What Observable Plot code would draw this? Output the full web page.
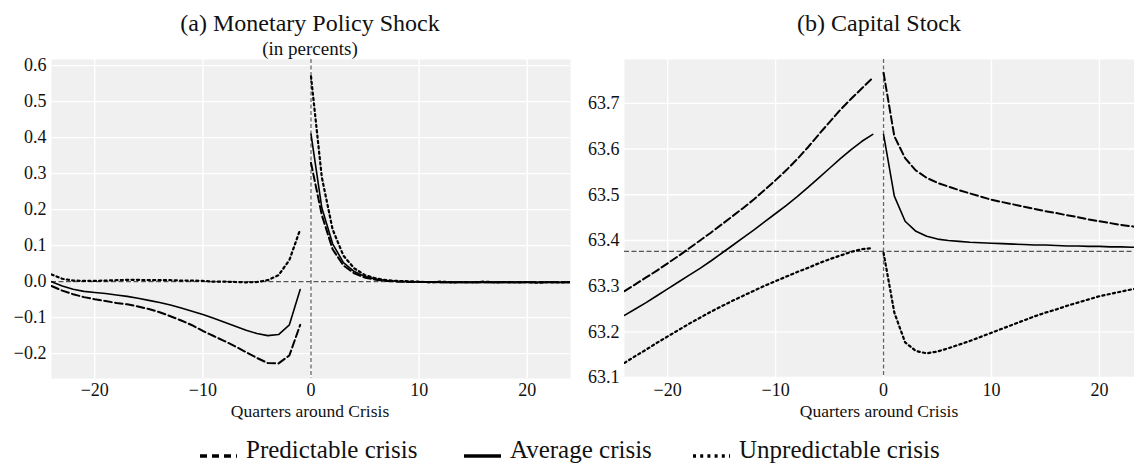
<!DOCTYPE html>
<html><head><meta charset="utf-8">
<script src="https://cdn.jsdelivr.net/npm/d3@7"></script>
<script src="https://cdn.jsdelivr.net/npm/@observablehq/plot@0.6"></script>
<style>
body{margin:0;background:#fff;}
#fig{position:relative;width:1134px;height:463px;font-family:"Liberation Serif",serif;color:#111;}
#fig svg, #fig svg text{font-family:"Liberation Serif",serif !important;}
.t{position:absolute;white-space:nowrap;transform:translate(-50%,-50%);line-height:1;}
.svgw{position:absolute;}
#legend{position:absolute;left:0;top:434px;width:1134px;height:30px;}
.li{position:absolute;top:0;height:30px;display:flex;align-items:center;font-size:25px;white-space:nowrap;line-height:1;}
.li svg{margin-right:9px;}
</style></head>
<body><div id="fig">
<div class="t" style="left:310px;top:23px;font-size:24px">(a) Monetary Policy Shock</div>
<div class="t" style="left:310px;top:48px;font-size:19px">(in percents)</div>
<div class="t" style="left:879px;top:23px;font-size:24px">(b) Capital Stock</div>
<div class="t" style="left:310px;top:412px;font-size:17.5px">Quarters around Crisis</div>
<div class="t" style="left:879px;top:412px;font-size:17.5px">Quarters around Crisis</div>
<div id="pa" class="svgw" style="left:0;top:40px"></div>
<div id="pb" class="svgw" style="left:570px;top:40px"></div>
<div id="legend"></div>
</div>
<script>
// ---- data ----
const quartersPre = [-24,-23,-22,-21,-20,-19,-18,-17,-16,-15,-14,-13,-12,-11,-10,-9,-8,-7,-6,-5,-4,-3,-2,-1];
const quartersPost = [0,1,2,3,4,5,6,7,8,9,10,11,12,13,14,15,16,17,18,19,20,21,22,23,24];
const xTicks = [-20,-10,0,10,20];

// (a) Monetary policy shock, in percents
const shockPredPre = [-0.012,-0.025,-0.035,-0.043,-0.049,-0.054,-0.059,-0.063,-0.069,-0.076,-0.085,-0.096,-0.108,-0.121,-0.137,-0.151,-0.165,-0.18,-0.196,-0.212,-0.226,-0.227,-0.205,-0.12];
const shockPredPost = [0.33,0.185,0.09,0.045,0.023,0.011,0.005,0.002,0.0,-0.001,-0.001,-0.001,-0.002,-0.002,-0.002,-0.002,-0.002,-0.002,-0.002,-0.002,-0.002,-0.002,-0.002,-0.002,-0.002];
const shockAvgPre = [0.0,-0.012,-0.021,-0.027,-0.03,-0.033,-0.037,-0.041,-0.046,-0.052,-0.058,-0.065,-0.073,-0.082,-0.091,-0.102,-0.113,-0.124,-0.135,-0.144,-0.15,-0.147,-0.12,-0.022];
const shockAvgPost = [0.41,0.205,0.105,0.053,0.028,0.014,0.007,0.003,0.001,0.0,-0.001,-0.001,-0.002,-0.002,-0.002,-0.002,-0.002,-0.002,-0.002,-0.002,-0.002,-0.002,-0.002,-0.002,-0.002];
const shockUnpPre = [0.02,0.008,0.003,0.002,0.002,0.003,0.004,0.005,0.005,0.004,0.004,0.004,0.003,0.003,0.002,0.0,0.0,-0.001,-0.002,-0.001,0.004,0.018,0.06,0.145];
const shockUnpPost = [0.57,0.29,0.145,0.072,0.037,0.018,0.009,0.004,0.002,0.001,0.0,-0.002,0.0,-0.002,-0.001,-0.002,0.0,-0.002,-0.001,-0.002,-0.001,-0.003,-0.001,-0.002,-0.001];
const shockTicks = [-0.2,-0.1,0.0,0.1,0.2,0.3,0.4,0.5,0.6];
const shockRef = 0.0;

// (b) Capital stock
const capPredPre = [63.289,63.304,63.319,63.334,63.35,63.366,63.383,63.4,63.417,63.435,63.453,63.471,63.49,63.511,63.532,63.554,63.578,63.604,63.632,63.659,63.686,63.71,63.733,63.756];
const capPredPost = [63.767,63.628,63.58,63.553,63.537,63.526,63.518,63.51,63.503,63.496,63.489,63.484,63.479,63.474,63.469,63.464,63.46,63.455,63.451,63.446,63.442,63.438,63.434,63.431,63.427];
const capAvgPre = [63.236,63.25,63.264,63.279,63.294,63.309,63.324,63.339,63.355,63.372,63.389,63.406,63.423,63.441,63.459,63.477,63.496,63.516,63.537,63.558,63.579,63.599,63.617,63.632];
const capAvgPost = [63.632,63.497,63.442,63.42,63.409,63.403,63.4,63.398,63.396,63.395,63.394,63.393,63.392,63.391,63.39,63.39,63.389,63.388,63.388,63.387,63.387,63.386,63.386,63.385,63.385];
const capUnpPre = [63.132,63.147,63.161,63.176,63.19,63.204,63.218,63.231,63.244,63.256,63.268,63.279,63.29,63.301,63.311,63.321,63.331,63.34,63.35,63.359,63.367,63.375,63.381,63.383];
const capUnpPost = [63.373,63.242,63.177,63.158,63.153,63.157,63.164,63.172,63.18,63.189,63.198,63.207,63.216,63.225,63.234,63.242,63.249,63.257,63.264,63.271,63.278,63.283,63.288,63.293,63.297];
const capTicks = [63.1,63.2,63.3,63.4,63.5,63.6,63.7];
const capRef = 63.376;

const seriesNames = ["Predictable crisis","Average crisis","Unpredictable crisis"];

// ---- styles ----
const lineStyle = {
  "Predictable crisis": {strokeWidth: 2, strokeDasharray: "7.6,3.4"},
  "Average crisis": {strokeWidth: 1.6, strokeDasharray: null},
  "Unpredictable crisis": {strokeWidth: 2.2, strokeDasharray: "2.2,3.2"}
};
const FONT = "Liberation Serif";

function rows(pre, post) {
  return [
    ...quartersPre.map((q,i)=>({q, v: pre[i], seg: "pre"})),
    ...quartersPost.map((q,i)=>({q, v: post[i], seg: "post"}))
  ];
}

function panel(opts) {
  const {series, yDomain, yTicks, yFmt, ref, xDomain, width, marginLeft} = opts;
  const marks = [
    Plot.frame({fill: "#f0f0f0", stroke: null}),
    Plot.gridX(xTicks, {stroke: "#fff", strokeOpacity: 1, strokeWidth: 1.4}),
    Plot.gridY(yTicks, {stroke: "#fff", strokeOpacity: 1, strokeWidth: 1.4}),
    Plot.ruleX([0], {stroke: "#666", strokeWidth: 1.3, strokeDasharray: "4,2.5"}),
    Plot.ruleY([ref], {stroke: "#555", strokeWidth: 1.3, strokeDasharray: "5,2.5"})
  ];
  series.forEach((s, k) => {
    const st = lineStyle[seriesNames[k]];
    marks.push(Plot.line(rows(s[0], s[1]), {
      x: "q", y: "v", z: "seg", stroke: "#000", strokeWidth: st.strokeWidth,
      strokeDasharray: st.strokeDasharray, clip: true
    }));
  });
  marks.push(Plot.axisX(xTicks, {tickSize: 0, tickPadding: 5, fontSize: 18, fontFamily: FONT, label: null, tickFormat: d3.format("d")}));
  marks.push(Plot.axisY(yTicks, {tickSize: 0, tickPadding: 5, fontSize: 18, fontFamily: FONT, label: null, tickFormat: yFmt}));
  return Plot.plot({
    width, height: 380,
    marginLeft, marginRight: opts.marginRight, marginTop: 19, marginBottom: opts.marginBottom,
    x: {domain: xDomain},
    y: {domain: yDomain},
    style: {fontFamily: FONT, color: "#111", background: "transparent"},
    marks
  });
}

document.getElementById("pa").append(panel({
  series: [[shockPredPre, shockPredPost],[shockAvgPre, shockAvgPost],[shockUnpPre, shockUnpPost]],
  yDomain: [-0.269, 0.617], yTicks: shockTicks, yFmt: d3.format(".1f"), ref: shockRef,
  xDomain: [-24, 24], width: 575, marginLeft: 51, marginRight: 5, marginBottom: 42
}));
document.getElementById("pb").append(panel({
  series: [[capPredPre, capPredPost],[capAvgPre, capAvgPost],[capUnpPre, capUnpPost]],
  yDomain: [63.099, 63.796], yTicks: capTicks, yFmt: d3.format(".1f"), ref: capRef,
  xDomain: [-24, 23.25], width: 564, marginLeft: 54, marginRight: 0, marginBottom: 42.5
}));

// legend
const legendPos = [200, 464, 693];
const leg = document.getElementById("legend");
seriesNames.forEach((name, i) => {
  const item = document.createElement("div");
  item.className = "li";
  item.style.left = legendPos[i] + "px";
  const dash = i === 0 ? "7,5" : i === 2 ? "3,4.2" : "none";
  item.innerHTML = `<svg width="37" height="30"><line x1="0" x2="37" y1="22" y2="22" stroke="#000" stroke-width="3.4" stroke-dasharray="${dash}"/></svg><span>${name}</span>`;
  leg.append(item);
});
</script>
</body></html>
